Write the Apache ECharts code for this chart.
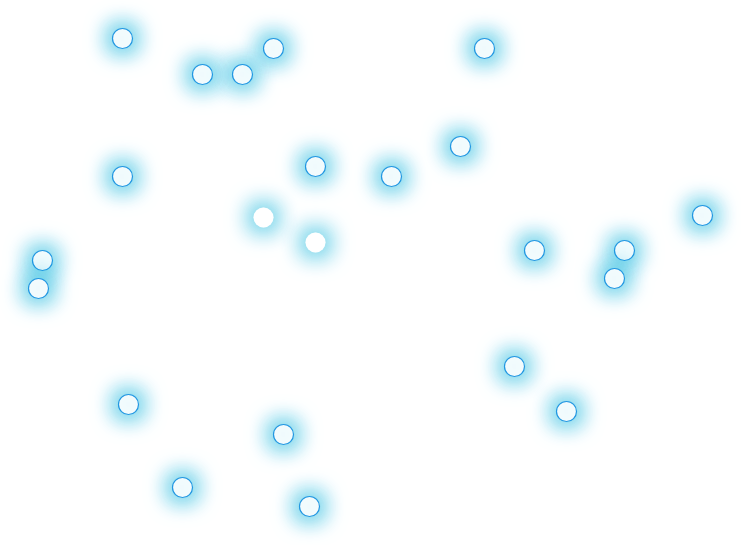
<!DOCTYPE html>
<html>
<head>
    <meta charset="UTF-8">
    <title>scatter glow</title>
    <script src="https://cdn.jsdelivr.net/npm/echarts@6/dist/echarts.min.js"></script>
    <style>
        html, body { margin: 0; padding: 0; background: #fff; }
        #main { width: 741px; height: 545px; }
    </style>
</head>
<body>
<div id="main"></div>
<script>
    // 点的位置（x 向右，y 向上，和画布同尺度）
    var xs = [122, 202, 242, 273, 484, 122, 315, 391, 460, 42, 38, 534, 624, 614, 702, 514, 566, 128, 283, 182, 309];
    var ys = [507, 471, 471, 497, 497, 369, 379, 369, 399, 285, 257, 295, 295, 267, 330, 179, 134, 141, 111, 58, 39];
    // 没有描边的两个点
    var xs2 = [263, 315];
    var ys2 = [328, 303];

    function pairs(a, b) {
        var out = [];
        for (var i = 0; i < a.length; i++) out.push([a[i] + 0.5, b[i] - 0.5]);
        return out;
    }

    var glow = 'rgba(0, 175, 215, 1)';
    var allPts = pairs(xs, ys).concat(pairs(xs2, ys2));

    var myChart = echarts.init(document.getElementById('main'));
    var option = {
        animation: false,
        grid: { left: 0, right: 0, top: 0, bottom: 0 },
        xAxis: { type: 'value', min: 0, max: 741, show: false },
        yAxis: { type: 'value', min: 0, max: 545, show: false },
        series: [{
            // 光晕底层，加强发光
            type: 'scatter',
            symbolSize: 20,
            silent: true,
            data: allPts,
            itemStyle: { color: '#fff', opacity: 1, shadowBlur: 28, shadowColor: glow }
        }, {
            type: 'scatter',
            symbolSize: 20,
            data: pairs(xs, ys),
            itemStyle: {
                color: '#fff',
                opacity: 1,
                borderColor: '#2297e2',
                borderWidth: 1.2,
                shadowBlur: 24,
                shadowColor: glow
            }
        }, {
            type: 'scatter',
            symbolSize: 20,
            data: pairs(xs2, ys2),
            itemStyle: {
                color: '#fff',
                opacity: 1,
                shadowBlur: 24,
                shadowColor: glow
            }
        }]
    };
    myChart.setOption(option);
</script>
</body>
</html>
